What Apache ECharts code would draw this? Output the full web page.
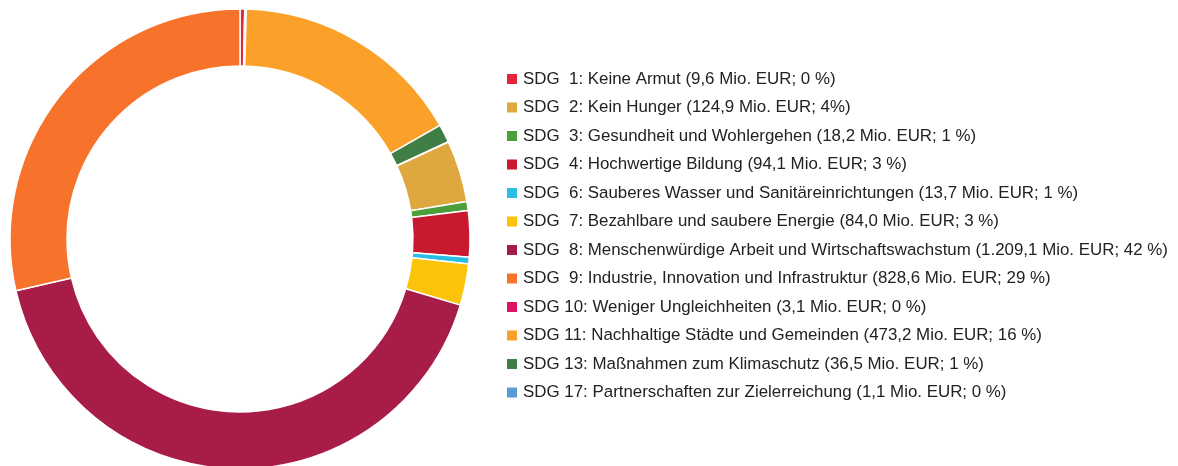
<!DOCTYPE html>
<html>
<head>
<meta charset="utf-8">
<script src="https://cdn.jsdelivr.net/npm/echarts@6/dist/echarts.min.js"></script>
<style>
  html, body { margin: 0; padding: 0; background: #fff; }
  #chart { width: 1178px; height: 466px; }
</style>
</head>
<body>
<div id="chart"></div>
<script>
// SDG goals, numeric order (legend order)
const sdgNumbers = [1, 2, 3, 4, 6, 7, 8, 9, 10, 11, 13, 17];
const sdgTitles = [
  'Keine Armut',
  'Kein Hunger',
  'Gesundheit und Wohlergehen',
  'Hochwertige Bildung',
  'Sauberes Wasser und Sanitäreinrichtungen',
  'Bezahlbare und saubere Energie',
  'Menschenwürdige Arbeit und Wirtschaftswachstum',
  'Industrie, Innovation und Infrastruktur',
  'Weniger Ungleichheiten',
  'Nachhaltige Städte und Gemeinden',
  'Maßnahmen zum Klimaschutz',
  'Partnerschaften zur Zielerreichung'
];
// Mio. EUR
const amounts = [9.6, 124.9, 18.2, 94.1, 13.7, 84.0, 1209.1, 828.6, 3.1, 473.2, 36.5, 1.1];
const amountLabels = ['9,6', '124,9', '18,2', '94,1', '13,7', '84,0', '1.209,1', '828,6', '3,1', '473,2', '36,5', '1,1'];
const shareLabels = ['0 %', '4%', '1 %', '3 %', '1 %', '3 %', '42 %', '29 %', '0 %', '16 %', '1 %', '0 %'];
const colors = ['#e5243b', '#dfa83e', '#4c9f38', '#c8192f', '#29bde2', '#fcc30b',
                '#a81c48', '#f7722a', '#dd1367', '#fba12a', '#3f7e44', '#5b9bd5'];

const names = sdgNumbers.map((n, i) => {
  const num = n < 10 ? ' ' + n : String(n);
  return 'SDG ' + num + ': ' + sdgTitles[i] + ' (' + amountLabels[i] + ' Mio. EUR; ' + shareLabels[i] + ')';
});

// the ring is ordered by the goal label as text (1, 10, 11, 13, 17, 2, ...)
const pieIdx = sdgNumbers.map((n, i) => i)
  .sort((a, b) => String(sdgNumbers[a]) < String(sdgNumbers[b]) ? -1 : 1);
const pieData = pieIdx.map(i => ({
  name: names[i],
  value: amounts[i],
  itemStyle: { color: colors[i] }
}));

const chart = echarts.init(document.getElementById('chart'));
chart.setOption({
  animation: false,
  legend: {
    orient: 'vertical',
    left: 500,
    top: 64,
    data: names,
    icon: 'rect',
    itemWidth: 12,
    itemHeight: 12,
    itemGap: 8.5,
    itemTextGap: 6,
    selectedMode: false,
    textStyle: {
      fontFamily: 'Liberation Sans, Arial, sans-serif',
      fontSize: 16.9,
      lineHeight: 20,
      color: '#222'
    }
  },
  series: [{
    type: 'pie',
    center: [240, 239],
    radius: [173, 230],
    startAngle: 90,
    clockwise: true,
    avoidLabelOverlap: false,
    label: { show: false },
    labelLine: { show: false },
    itemStyle: { borderColor: '#fff', borderWidth: 1.5 },
    emphasis: { disabled: true },
    data: pieData
  }]
});
</script>
</body>
</html>
